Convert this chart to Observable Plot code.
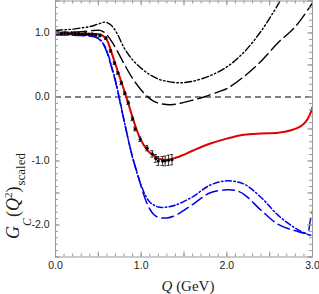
<!DOCTYPE html>
<html><head><meta charset="utf-8">
<script src="https://cdn.jsdelivr.net/npm/d3@7"></script>
<script src="https://cdn.jsdelivr.net/npm/@observablehq/plot@0.6"></script>
<style>body{margin:0;background:#fff} #chart svg{display:block}</style>
</head><body><div id="chart"></div>
<script>
// tick labels
const xTickLabels = [0, 1, 2, 3];
const yTickLabels = [-2, -1, 0, 1];

// red solid curve
const redQ = [0,0.1,0.2,0.3,0.4,0.5,0.55,0.6,0.65,0.7,0.75,0.8,0.85,0.9,0.95,1.0,1.05,1.1,1.15,1.2,1.3,1.4,1.5,1.6,1.8,2.0,2.2,2.4,2.6,2.75,2.86,2.92,2.96,3.0];
const redG = [1.0,0.995,0.99,0.99,0.985,0.98,0.96,0.89,0.71,0.51,0.31,0.11,-0.10,-0.32,-0.52,-0.68,-0.79,-0.87,-0.92,-0.96,-0.98,-0.95,-0.90,-0.84,-0.73,-0.65,-0.59,-0.57,-0.56,-0.52,-0.46,-0.39,-0.30,-0.16];

// black dash-dot-dot curve
const kddQ = [0,0.1,0.2,0.3,0.4,0.5,0.58,0.65,0.72,0.8,0.9,1.0,1.1,1.2,1.3,1.4,1.5,1.6,1.8,2.0,2.2,2.4,2.6,2.66];
const kddG = [1.04,1.05,1.06,1.08,1.10,1.14,1.17,1.12,0.99,0.77,0.58,0.45,0.35,0.28,0.245,0.225,0.225,0.245,0.33,0.47,0.70,1.03,1.45,1.6];

// black long-dash curve
const kldQ = [0,0.3,0.45,0.52,0.58,0.65,0.72,0.8,0.9,1.0,1.07,1.15,1.25,1.35,1.45,1.6,1.73,1.9,2.0,2.2,2.4,2.6,2.8,3.0];
const kldG = [1.01,1.02,1.04,1.04,1.0,0.88,0.72,0.52,0.29,0.11,0.01,-0.07,-0.11,-0.12,-0.10,-0.05,0.0,0.08,0.13,0.32,0.56,0.85,1.1,1.47];

// blue dash-dot curve
const bddQ = [0,0.2,0.4,0.45,0.5,0.55,0.6,0.65,0.7,0.75,0.8,0.85,0.9,0.95,1.0,1.05,1.1,1.15,1.2,1.3,1.4,1.6,1.8,2.0,2.2,2.4,2.6,2.8,2.95,2.98];
const bddG = [0.98,0.975,0.96,0.95,0.92,0.85,0.72,0.50,0.26,-0.05,-0.36,-0.67,-0.95,-1.18,-1.38,-1.54,-1.64,-1.69,-1.72,-1.72,-1.69,-1.56,-1.38,-1.31,-1.36,-1.57,-1.85,-2.05,-2.15,-2.16];

// blue long-dash curve
const bldQ = [0,0.2,0.4,0.45,0.5,0.55,0.6,0.65,0.7,0.75,0.8,0.85,0.9,0.95,1.0,1.05,1.1,1.15,1.2,1.3,1.4,1.6,1.8,2.0,2.1,2.2,2.4,2.6,2.8,2.94,2.97,3.0];
const bldG = [0.97,0.965,0.95,0.94,0.91,0.84,0.70,0.48,0.24,-0.06,-0.37,-0.67,-0.94,-1.17,-1.40,-1.60,-1.75,-1.84,-1.88,-1.89,-1.85,-1.68,-1.50,-1.45,-1.46,-1.52,-1.77,-1.99,-2.09,-2.12,-1.96,-1.78];

// experimental points
const expQ = [0.03,0.07,0.11,0.15,0.19,0.23,0.27,0.31,0.35,0.39,0.43,0.47,0.52,0.59,0.645,0.69,0.73,0.77,0.81,0.85,0.9,0.93,0.99,1.07,1.13,1.17,1.2,1.25,1.28,1.32,1.36];
const expG = [1.0,0.99,1.0,0.99,1.0,0.99,0.99,0.98,0.99,0.98,0.98,0.97,0.96,0.92,0.72,0.53,0.375,0.22,0.06,-0.09,-0.34,-0.5,-0.66,-0.8,-0.89,-0.96,-1.0,-1.0,-1.0,-0.99,-0.98];
const expE = [0.015,0.015,0.015,0.015,0.015,0.015,0.015,0.015,0.015,0.015,0.02,0.02,0.02,0.02,0.02,0.02,0.02,0.025,0.025,0.025,0.03,0.03,0.035,0.04,0.05,0.06,0.07,0.07,0.075,0.08,0.08];

const mk = (Q, G) => Q.map((q, i) => ({q, g: G[i]}));
const red = mk(redQ, redG), kdd = mk(kddQ, kddG), kld = mk(kldQ, kldG), bdd = mk(bddQ, bddG), bld = mk(bldQ, bldG);
const exp = expQ.map((q, i) => ({q, g: expG[i], e: expE[i]}));

const xDom = [0, 3], yDom = [-2.5, 1.5];
const xMinor = d3.range(0, 30.01, 1).map(d => d / 10);
const xMajor = d3.range(0, 6.01, 1).map(d => d / 2);
const yMinor = d3.range(-25, 15.01, 1).map(d => d / 10);
const yMajor = d3.range(-5, 3.01, 1).map(d => d / 2);
const tickCol = "#999";
// inward tick lengths expressed in data units (px / px-per-unit)
const W = 319, H = 294, mL = 55, mR = 7, mT = 0.5, mB = 37.5;
const pxX = (W - mL - mR) / (xDom[1] - xDom[0]);
const pxY = (H - mT - mB) / (yDom[1] - yDom[0]);
const tx = (px) => px / pxY; // vertical length for x ticks
const ty = (px) => px / pxX; // horizontal length for y ticks

const chart = Plot.plot({
  width: W, height: H,
  marginLeft: mL, marginRight: mR, marginTop: mT, marginBottom: mB,
  x: {domain: xDom},
  y: {domain: yDom},
  style: {fontFamily: "'Liberation Sans', Arial, sans-serif", fontSize: "10.5px", color: "#222"},
  marks: [
    Plot.ruleY([0], {stroke: "black", strokeWidth: 1.2, strokeDasharray: "6,4"}),
    Plot.line(kdd, {x: "q", y: "g", stroke: "black", strokeWidth: 1.4, strokeDasharray: "7,2.5,1.5,2.5,1.5,2.5", curve: "catmull-rom", clip: true}),
    Plot.line(kld, {x: "q", y: "g", stroke: "black", strokeWidth: 1.4, strokeDasharray: "13,5", curve: "catmull-rom", clip: true}),
    Plot.line(bld, {x: "q", y: "g", stroke: "#0000e6", strokeWidth: 1.5, strokeDasharray: "12,5", curve: "catmull-rom", clip: true}),
    Plot.line(bdd, {x: "q", y: "g", stroke: "#0000e6", strokeWidth: 1.5, strokeDasharray: "6,2.5,1.5,2.5", curve: "catmull-rom", clip: true}),
    Plot.line(red, {x: "q", y: "g", stroke: "#e00000", strokeWidth: 2, curve: "catmull-rom", clip: true}),
    Plot.ruleX(exp, {x: "q", y1: d => d.g - d.e, y2: d => d.g + d.e, stroke: "#333", strokeWidth: 1}),
    Plot.ruleY(exp, {y: d => d.g + d.e, x1: d => d.q - 0.018, x2: d => d.q + 0.018, stroke: "#333", strokeWidth: 1}),
    Plot.ruleY(exp, {y: d => d.g - d.e, x1: d => d.q - 0.018, x2: d => d.q + 0.018, stroke: "#333", strokeWidth: 1}),
    Plot.dot(exp, {x: "q", y: "g", r: 1.6, fill: "black"}),
    Plot.frame({stroke: tickCol}),
    // inward ticks: bottom, top, left, right
    Plot.ruleX(xMinor, {x: d => d, y1: yDom[0], y2: yDom[0] + tx(3), stroke: tickCol}),
    Plot.ruleX(xMajor, {x: d => d, y1: yDom[0], y2: yDom[0] + tx(5), stroke: tickCol}),
    Plot.ruleX(xMinor, {x: d => d, y1: yDom[1], y2: yDom[1] - tx(3), stroke: tickCol}),
    Plot.ruleX(xMajor, {x: d => d, y1: yDom[1], y2: yDom[1] - tx(5), stroke: tickCol}),
    Plot.ruleY(yMinor, {y: d => d, x1: xDom[0], x2: xDom[0] + ty(3), stroke: tickCol}),
    Plot.ruleY(yMajor, {y: d => d, x1: xDom[0], x2: xDom[0] + ty(5), stroke: tickCol}),
    Plot.ruleY(yMinor, {y: d => d, x1: xDom[1], x2: xDom[1] - ty(3), stroke: tickCol}),
    Plot.ruleY(yMajor, {y: d => d, x1: xDom[1], x2: xDom[1] - ty(5), stroke: tickCol}),
    // labels
    Plot.axisX(xTickLabels, {anchor: "bottom", tickSize: 0, tickPadding: 5, tickFormat: d => d.toFixed(1), label: null, fill: "#222"}),
    Plot.axisY(yTickLabels, {anchor: "left", tickSize: 0, tickPadding: 6, tickFormat: d => d.toFixed(1), label: null, fill: "#222"})
  ]
});
document.getElementById("chart").appendChild(chart);

const svg = d3.select(chart);
const serif = "'Liberation Serif', 'Times New Roman', serif";
const yl = svg.append("text")
  .attr("transform", "translate(19,196) rotate(-90)")
  .attr("font-family", serif).attr("font-size", 18).attr("fill", "#222");
yl.append("tspan").attr("font-style", "italic").text("G");
yl.append("tspan").attr("font-style", "italic").attr("font-size", 12).attr("dy", 12).text("C");
yl.append("tspan").attr("dy", -12).attr("dx", 1).text("(");
yl.append("tspan").attr("font-style", "italic").text("Q");
yl.append("tspan").attr("font-size", 11).attr("dy", -7).text("2");
yl.append("tspan").attr("dy", 7).text(")");
yl.append("tspan").attr("font-size", 13).attr("dy", 6).attr("dx", 1).text("scaled");

const xl = svg.append("text")
  .attr("x", 188).attr("y", 291).attr("text-anchor", "middle")
  .attr("font-family", serif).attr("font-size", 15).attr("fill", "#222");
xl.append("tspan").attr("font-style", "italic").text("Q");
xl.append("tspan").text(" (GeV)");
</script>
</body></html>
